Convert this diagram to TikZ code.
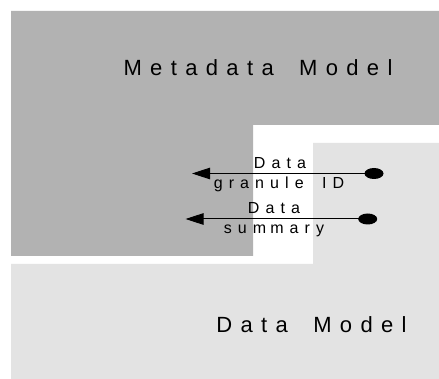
\documentclass[tikz,border=0pt]{standalone}
\usepackage{fontspec}
\setmainfont{Liberation Sans}[LetterSpace=38,WordSpace=1.75]
\usetikzlibrary{shapes.geometric,arrows.meta}
\definecolor{metagray}{gray}{0.70}
\definecolor{datagray}{gray}{0.89}
\tikzset{
  region/.style={draw=none},
  title/.style={anchor=base, inner sep=0pt, font=\fontsize{22}{26}\selectfont},
  flowlabel/.style={anchor=base, inner sep=0pt, font=\fontsize{16}{19}\selectfont},
  source/.style={ellipse, fill=black, draw=none, minimum width=19pt, minimum height=11pt, inner sep=0pt},
  flow/.style={line width=1pt, -{Triangle[length=18pt,width=11.5pt]}}
}
\begin{document}
\begin{tikzpicture}[x=1pt,y=-1pt]
  \useasboundingbox (0,0) rectangle (439,379);
  % metadata model region (L-shaped)
  \fill[metagray, region] (11,11) -- (439,11) -- (439,125) -- (253,125) -- (253,256) -- (11,256) -- cycle;
  % data model region (L-shaped)
  \fill[datagray, region] (313,143) -- (439,143) -- (439,379) -- (11,379) -- (11,264) -- (313,264) -- cycle;

  \node[title] (meta) at (258,76) {Metadata Model};
  \node[title] (data) at (311.5,332.7) {Data Model};

  % flows from the data model into the metadata model
  \node[source] (s1) at (374,173.5) {};
  \coordinate (t1) at (192,173.5);
  \node[source] (s2) at (367.7,219) {};
  \coordinate (t2) at (185.5,219);
  \draw[flow] (s1.center) -- (t1);
  \draw[flow] (s2.center) -- (t2);

  \node[flowlabel] (l1a) at (280,168.3) {Data};
  \node[flowlabel] (l1b) at (279,189) {granule ID};
  \node[flowlabel] (l2a) at (274,214) {Data};
  \node[flowlabel] (l2b) at (274,234) {sum\kern4pt mary};
\end{tikzpicture}
\end{document}
